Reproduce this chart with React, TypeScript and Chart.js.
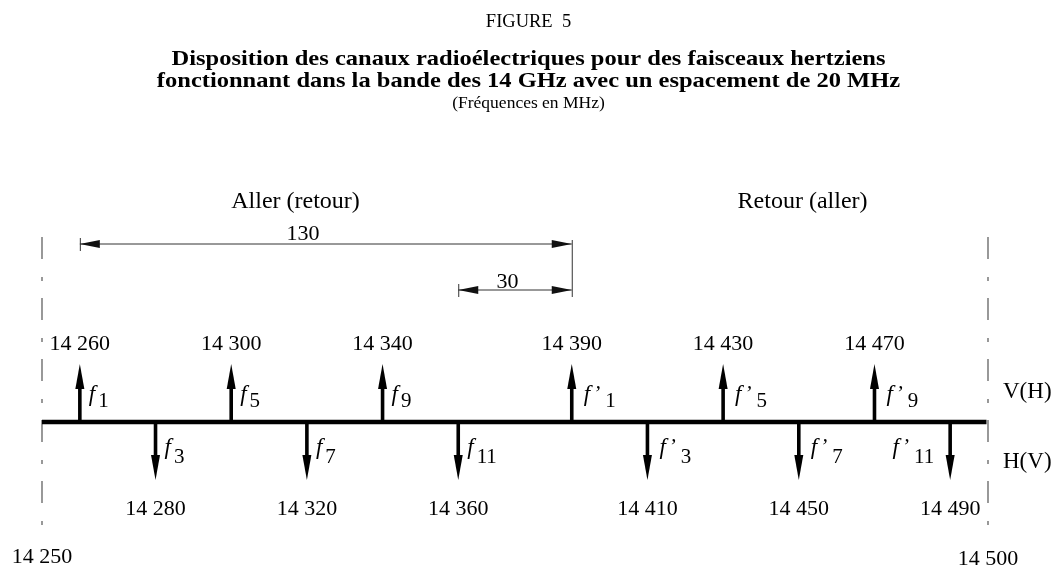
import React, { useEffect, useRef } from "react";
import { Chart, registerables } from "chart.js";

Chart.register(...registerables);

// ---------- data ----------
const BAND_EDGES = [14250, 14500];
const UP_CHANNELS = [14260, 14300, 14340, 14390, 14430, 14470];
const UP_NAMES = ["1", "5", "9", "1", "5", "9"];
const UP_PRIMED = [false, false, false, true, true, true];
const DOWN_CHANNELS = [14280, 14320, 14360, 14410, 14450, 14490];
const DOWN_NAMES = ["3", "7", "11", "3", "7", "11"];
const DOWN_PRIMED = [false, false, false, true, true, true];
const SPAN_FROM = [14260, 14360];
const SPAN_TO = [14390, 14390];
const SPAN_LABELS = ["130", "30"];
const SPAN_LABEL_AT = [14319, 14373];
const GROUP_LABELS = ["Aller (retour)", "Retour (aller)"];
const GROUP_LABEL_AT = [14317, 14451];
const POL_LABELS = ["V(H)", "H(V)"];
const TITLE = "FIGURE  5";
const SUBTITLE_LINES = [
  "Disposition des canaux radioélectriques pour des faisceaux hertziens",
  "fonctionnant dans la bande des 14 GHz avec un espacement de 20 MHz",
];
const UNITS_LINE = "(Fréquences en MHz)";

// ---------- layout / style ----------
const W = 1057;
const H = 570;
const AXIS_PX = 422;
const UNIT_PX = 58;
const SUBTITLE_WIDTH = 714;
const SERIF = "'Liberation Serif', 'Times New Roman', serif";

const fmt = (v: number) =>
  `${Math.floor(v / 1000)} ${String(v % 1000).padStart(3, "0")}`;

function drawArrow(
  ctx: CanvasRenderingContext2D,
  x: number,
  y0: number,
  y1: number,
  shaft: number,
  headLen: number,
  headW: number
) {
  const dir = Math.sign(y1 - y0);
  ctx.beginPath();
  ctx.lineWidth = shaft;
  ctx.lineCap = "butt";
  ctx.moveTo(x, y0);
  ctx.lineTo(x, y1 - dir * (headLen - 2));
  ctx.stroke();
  ctx.beginPath();
  ctx.moveTo(x, y1);
  ctx.lineTo(x - headW / 2, y1 - dir * headLen);
  ctx.lineTo(x + headW / 2, y1 - dir * headLen);
  ctx.closePath();
  ctx.fill();
}

function drawHArrowHead(
  ctx: CanvasRenderingContext2D,
  x: number,
  y: number,
  dir: number,
  len: number,
  w: number
) {
  ctx.beginPath();
  ctx.moveTo(x, y);
  ctx.lineTo(x - dir * len, y - w / 2);
  ctx.lineTo(x - dir * len, y + w / 2);
  ctx.closePath();
  ctx.fill();
}

function drawChannelName(
  ctx: CanvasRenderingContext2D,
  x: number,
  fBase: number,
  subBase: number,
  sub: string,
  primed: boolean,
  side: "right" | "left"
) {
  const fFont = `italic 23px ${SERIF}`;
  const sFont = `21px ${SERIF}`;
  ctx.font = fFont;
  const fW = ctx.measureText("f").width;
  ctx.font = sFont;
  const subW = ctx.measureText(sub).width;
  const primeGap = primed ? 12 : 0;
  const total = fW + 3 + primeGap + subW;
  const left = side === "right" ? x + (primed ? 12 : 9) : x - 16 - total;
  ctx.textAlign = "left";
  ctx.textBaseline = "alphabetic";
  ctx.font = fFont;
  ctx.fillText("f", left, fBase);
  let cx = left + fW + 3;
  if (primed) {
    ctx.font = `italic 21px ${SERIF}`;
    ctx.fillText("\u2019", cx, fBase - 1);
    cx += primeGap;
  }
  ctx.font = sFont;
  ctx.fillText(sub, cx, subBase);
}

const figurePlugin = {
  id: "figure",
  afterDatasetsDraw(chart: any) {
    const ctx: CanvasRenderingContext2D = chart.ctx;
    const xs = chart.scales.x;
    const ys = chart.scales.y;
    const px = (v: number) => xs.getPixelForValue(v);
    const axisY = ys.getPixelForValue(0);
    const upY = ys.getPixelForValue(1);
    const downY = ys.getPixelForValue(-1);

    ctx.save();
    ctx.fillStyle = "#000";
    ctx.strokeStyle = "#000";

    // title block
    ctx.textAlign = "center";
    ctx.textBaseline = "alphabetic";
    ctx.font = `18.5px ${SERIF}`;
    ctx.fillText(TITLE, W / 2, 27);
    ctx.font = `bold 21px ${SERIF}`;
    const sx = SUBTITLE_WIDTH / ctx.measureText(SUBTITLE_LINES[0]).width;
    [65, 87].forEach((yb, i) => {
      ctx.save();
      ctx.translate(W / 2, yb);
      ctx.scale(sx, 1);
      ctx.fillText(SUBTITLE_LINES[i], 0, 0);
      ctx.restore();
    });
    ctx.font = `17.5px ${SERIF}`;
    ctx.fillText(UNITS_LINE, W / 2, 108);

    // band edges (dash-dot)
    ctx.save();
    ctx.strokeStyle = "#555";
    ctx.lineWidth = 1.2;
    ctx.setLineDash([22, 18, 4, 17]);
    BAND_EDGES.forEach((v) => {
      ctx.beginPath();
      ctx.moveTo(px(v), axisY - 185);
      ctx.lineTo(px(v), axisY + 106);
      ctx.stroke();
    });
    ctx.restore();

    // main axis
    ctx.beginPath();
    ctx.lineWidth = 4.5;
    ctx.moveTo(px(BAND_EDGES[0]), axisY);
    ctx.lineTo(px(BAND_EDGES[1]) - 1.5, axisY);
    ctx.stroke();

    // up channels
    UP_CHANNELS.forEach((v, i) => {
      const x = px(v);
      drawArrow(ctx, x, axisY, upY, 3.6, 25, 9);
      ctx.font = `22px ${SERIF}`;
      ctx.textAlign = "center";
      ctx.fillText(fmt(v), x, axisY - 72);
      drawChannelName(ctx, x, axisY - 21, axisY - 15, UP_NAMES[i], UP_PRIMED[i], "right");
    });

    // down channels
    DOWN_CHANNELS.forEach((v, i) => {
      const x = px(v);
      drawArrow(ctx, x, axisY, downY, 3.6, 25, 9);
      ctx.font = `22px ${SERIF}`;
      ctx.textAlign = "center";
      ctx.fillText(fmt(v), x, axisY + 93);
      const last = i === DOWN_CHANNELS.length - 1;
      drawChannelName(ctx, x, axisY + 32, axisY + 41, DOWN_NAMES[i], DOWN_PRIMED[i], last ? "left" : "right");
    });

    // band edge values
    ctx.font = `22px ${SERIF}`;
    ctx.textAlign = "center";
    ctx.fillText(fmt(BAND_EDGES[0]), px(BAND_EDGES[0]), axisY + 141);
    ctx.fillText(fmt(BAND_EDGES[1]), px(BAND_EDGES[1]), axisY + 143);

    // spacing dimensions
    const spanY = [axisY - 178, axisY - 132];
    ctx.save();
    ctx.strokeStyle = "#333";
    ctx.fillStyle = "#111";
    ctx.lineWidth = 1;
    SPAN_FROM.forEach((a, i) => {
      const x0 = px(a);
      const x1 = px(SPAN_TO[i]);
      const y = spanY[i];
      ctx.beginPath();
      ctx.moveTo(x0, y);
      ctx.lineTo(x1, y);
      ctx.stroke();
      ctx.beginPath();
      ctx.moveTo(x0 + 0.5, y - 6);
      ctx.lineTo(x0 + 0.5, y + 7);
      ctx.stroke();
      drawHArrowHead(ctx, x0, y, -1, 20, 8);
      drawHArrowHead(ctx, x1, y, 1, 20, 8);
    });
    const xe = px(SPAN_TO[0]) + 0.5;
    ctx.beginPath();
    ctx.moveTo(xe, spanY[0] - 4);
    ctx.lineTo(xe, spanY[1] + 7);
    ctx.stroke();
    ctx.restore();

    ctx.font = `22px ${SERIF}`;
    ctx.textAlign = "center";
    SPAN_LABELS.forEach((t, i) => {
      ctx.fillText(t, px(SPAN_LABEL_AT[i]), spanY[i] - 4 + (i === 1 ? 2 : 0));
    });

    // group labels
    ctx.font = `24px ${SERIF}`;
    GROUP_LABELS.forEach((t, i) => {
      ctx.fillText(t, px(GROUP_LABEL_AT[i]), axisY - 214);
    });

    // polarisation labels
    ctx.font = `23px ${SERIF}`;
    ctx.textAlign = "left";
    ctx.fillText(POL_LABELS[0], px(BAND_EDGES[1]) + 15, axisY - 24);
    ctx.fillText(POL_LABELS[1], px(BAND_EDGES[1]) + 15, axisY + 46);

    ctx.restore();
  },
};

export default function App() {
  const ref = useRef<HTMLCanvasElement>(null);

  useEffect(() => {
    if (!ref.current) return;
    const left = 42;
    const right = 988;
    const chart = new Chart(ref.current, {
      type: "scatter",
      data: {
        datasets: [
          {
            data: [
              ...UP_CHANNELS.map((v) => ({ x: v, y: 1 })),
              ...DOWN_CHANNELS.map((v) => ({ x: v, y: -1 })),
            ],
            pointRadius: 0,
            showLine: false,
          },
        ],
      },
      options: {
        responsive: false,
        animation: false,
        events: [],
        layout: { padding: { left, right: W - right, top: 0, bottom: 0 } },
        plugins: {
          legend: { display: false },
          tooltip: { enabled: false },
          title: { display: false },
        },
        scales: {
          x: {
            type: "linear",
            min: BAND_EDGES[0],
            max: BAND_EDGES[1],
            display: false,
          },
          y: {
            type: "linear",
            min: -(H - AXIS_PX) / UNIT_PX,
            max: AXIS_PX / UNIT_PX,
            display: false,
          },
        },
      },
      plugins: [figurePlugin],
    });
    return () => chart.destroy();
  }, []);

  return (
    <div style={{ position: "absolute", left: 0, top: 0, width: W, height: H, background: "#fff" }}>
      <canvas ref={ref} width={W} height={H} style={{ display: "block" }} />
    </div>
  );
}
